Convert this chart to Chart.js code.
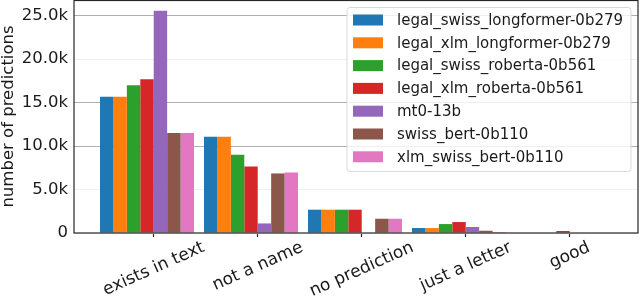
<!DOCTYPE html>
<html>
<head>
<meta charset="utf-8">
<script src="https://cdn.jsdelivr.net/npm/chart.js@4.4.0/dist/chart.umd.min.js"></script>
<style>
  body { margin: 0; background: #fff; }
  canvas { display: block; }
</style>
</head>
<body>
<canvas id="predChart" width="640" height="298"></canvas>
<script>
// Categories and series (values in number of predictions)
const categories = ['exists in text', 'not a name', 'no prediction', 'just a letter', 'good'];

const modelNames = [
  'legal_swiss_longformer-0b279',
  'legal_xlm_longformer-0b279',
  'legal_swiss_roberta-0b561',
  'legal_xlm_roberta-0b561',
  'mt0-13b',
  'swiss_bert-0b110',
  'xlm_swiss_bert-0b110'
];

const legalSwissLongformer = [15660, 11060, 2680, 570, 0];
const legalXlmLongformer   = [15660, 11060, 2680, 570, 0];
const legalSwissRoberta    = [17000, 8990, 2680, 1030, 0];
const legalXlmRoberta      = [17690, 7650, 2680, 1260, 230];
const mt0                  = [25570, 1100, 0, 690, 0];
const swissBert            = [11490, 6850, 1640, 260, 0];
const xlmSwissBert         = [11490, 6960, 1640, 110, 0];

const seriesValues = [
  legalSwissLongformer, legalXlmLongformer, legalSwissRoberta, legalXlmRoberta,
  mt0, swissBert, xlmSwissBert
];

const colors = ['#1f77b4', '#ff7f0e', '#2ca02c', '#d62728', '#9467bd', '#8c564b', '#e377c2'];

const yTicks = [0, 5000, 10000, 15000, 20000, 25000];

const FONT = 'DejaVu Sans';

// Frame around the plot area (matplotlib style spines)
const framePlugin = {
  id: 'frame',
  afterDraw(chart) {
    const { ctx, chartArea } = chart;
    ctx.save();
    ctx.strokeStyle = '#262626';
    ctx.lineWidth = 1.2;
    ctx.strokeRect(chartArea.left, chartArea.top + 0.5, chartArea.right - chartArea.left, chartArea.bottom - chartArea.top - 0.5);
    ctx.restore();
  }
};

// Rotated x labels, centered on the tick
const xLabelPlugin = {
  id: 'xLabels',
  afterDraw(chart) {
    const { ctx } = chart;
    const scale = chart.scales.x;
    const angle = 24 * Math.PI / 180;
    const size = 17;
    ctx.save();
    ctx.font = size + 'px "' + FONT + '"';
    ctx.fillStyle = '#1a1a1a';
    scale.ticks.forEach((t, i) => {
      const label = categories[i];
      const w = ctx.measureText(label).width;
      const x = scale.getPixelForValue(t.value);
      const top = scale.top + 6;
      const cy = top + (w * Math.sin(angle) + size * Math.cos(angle)) / 2;
      ctx.save();
      ctx.translate(x, cy);
      ctx.rotate(-angle);
      ctx.textAlign = 'center';
      ctx.textBaseline = 'middle';
      ctx.fillText(label, 0, 0);
      ctx.restore();
    });
    ctx.restore();
  }
};

// Legend box inside the plot, upper right
const legendPlugin = {
  id: 'boxLegend',
  afterDraw(chart) {
    const { ctx } = chart;
    const x0 = 347, y0 = 7.5, w = 284, h = 164, r = 3;
    const rowH = 22.8;
    ctx.save();
    ctx.beginPath();
    ctx.roundRect(x0, y0, w, h, r);
    ctx.fillStyle = 'rgba(255,255,255,0.8)';
    ctx.fill();
    ctx.strokeStyle = '#d9d9d9';
    ctx.lineWidth = 1;
    ctx.stroke();

    ctx.font = '15px "' + FONT + '"';
    ctx.textBaseline = 'middle';
    ctx.textAlign = 'left';
    modelNames.forEach((name, i) => {
      const cy = 20 + i * rowH;
      ctx.fillStyle = colors[i];
      ctx.fillRect(353, cy - 5.5, 30, 11);
      ctx.fillStyle = '#1a1a1a';
      ctx.fillText(name, 397, cy + 1);
    });
    ctx.restore();
  }
};

const datasets = modelNames.map((name, i) => ({
  label: name,
  data: seriesValues[i].map((v, j) => ({ x: j, y: v })),
  backgroundColor: colors[i],
  borderWidth: 0,
  categoryPercentage: 0.904,
  barPercentage: 1.0
}));

new Chart(document.getElementById('predChart'), {
  type: 'bar',
  data: { datasets },
  plugins: [framePlugin, xLabelPlugin, legendPlugin],
  options: {
    responsive: false,
    animation: false,
    layout: { padding: { top: 0, right: 2, left: 0, bottom: 0 } },
    plugins: {
      legend: { display: false },
      tooltip: { enabled: false }
    },
    scales: {
      x: {
        type: 'linear',
        min: -0.702,
        max: 4.721,
        offset: false,
        grid: {
          offset: false,
          drawOnChartArea: false,
          drawTicks: true,
          tickLength: 4,
          tickColor: '#262626',
          tickWidth: 1.2
        },
        border: { display: false },
        ticks: { display: false },
        afterBuildTicks: (scale) => {
          scale.ticks = categories.map((_, i) => ({ value: i + 0.065 }));
        },
        afterFit: (scale) => {
          scale.height = 65;
          scale.paddingLeft = 0;
          scale.paddingRight = 0;
        }
      },
      y: {
        min: 0,
        max: 26800,
        border: { display: false },
        grid: {
          drawTicks: false,
          lineWidth: 1,
          color: (ctx) => {
            const v = ctx.tick ? ctx.tick.value : 0;
            return (v === 10000 || v === 15000 || v === 25000) ? '#b0b0b0' : '#f0f0f0';
          }
        },
        afterBuildTicks: (scale) => {
          scale.ticks = yTicks.map(v => ({ value: v }));
        },
        ticks: {
          padding: 6,
          color: '#1a1a1a',
          font: { family: FONT, size: 16.5 },
          callback: (v) => v === 0 ? '0' : (v / 1000).toFixed(1) + 'k'
        },
        title: {
          display: true,
          text: 'number of predictions',
          color: '#1a1a1a',
          font: { family: FONT, size: 16.5, lineHeight: 1.0 },
          padding: { top: 0, bottom: 0 }
        },
        afterFit: (scale) => {
          scale.width = 74;
          scale.paddingTop = 0;
          scale.paddingBottom = 0;
        }
      }
    }
  }
});
</script>
</body>
</html>
